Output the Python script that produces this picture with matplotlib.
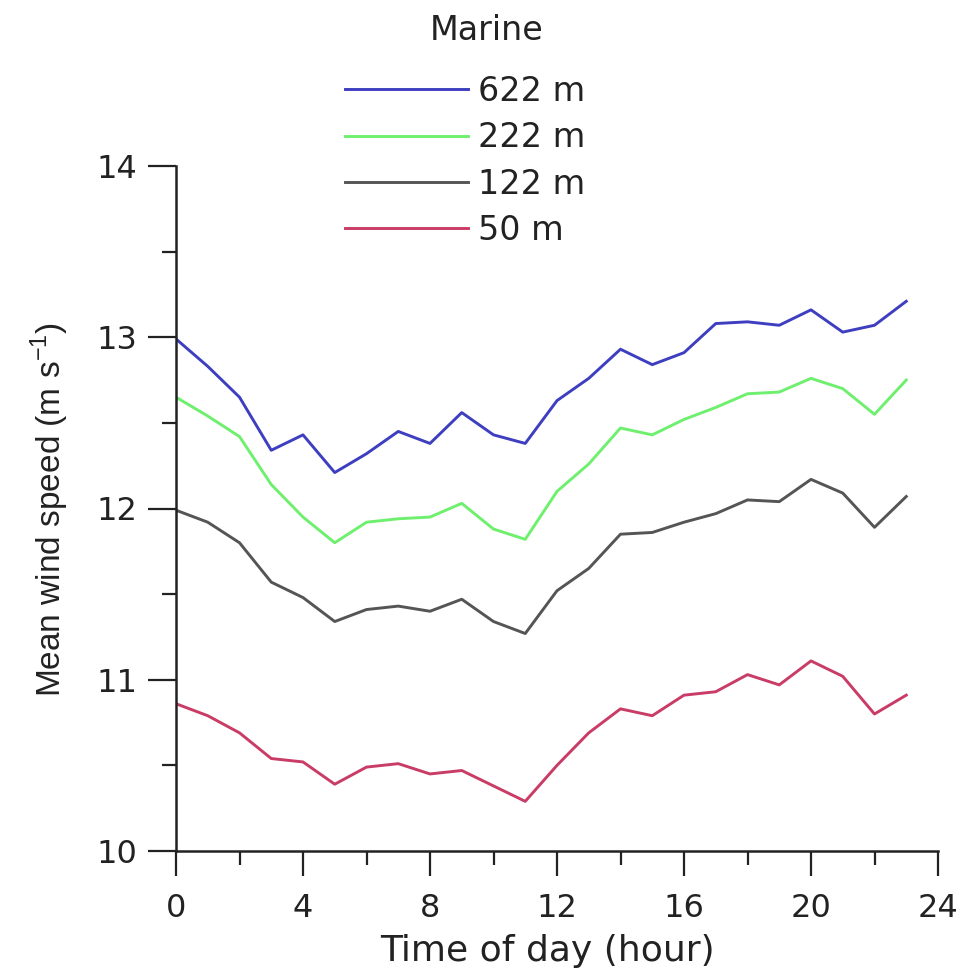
import matplotlib
matplotlib.use("Agg")
import matplotlib.pyplot as plt
from matplotlib.ticker import MultipleLocator

hours = list(range(24))
h622 = [12.99, 12.83, 12.65, 12.34, 12.43, 12.21, 12.32, 12.45, 12.38, 12.56, 12.43, 12.38,
        12.63, 12.76, 12.93, 12.84, 12.91, 13.08, 13.09, 13.07, 13.16, 13.03, 13.07, 13.21]
h222 = [12.65, 12.54, 12.42, 12.14, 11.95, 11.80, 11.92, 11.94, 11.95, 12.03, 11.88, 11.82,
        12.10, 12.26, 12.47, 12.43, 12.52, 12.59, 12.67, 12.68, 12.76, 12.70, 12.55, 12.75]
h122 = [11.99, 11.92, 11.80, 11.57, 11.48, 11.34, 11.41, 11.43, 11.40, 11.47, 11.34, 11.27,
        11.52, 11.65, 11.85, 11.86, 11.92, 11.97, 12.05, 12.04, 12.17, 12.09, 11.89, 12.07]
h50 = [10.86, 10.79, 10.69, 10.54, 10.52, 10.39, 10.49, 10.51, 10.45, 10.47, 10.38, 10.29,
       10.50, 10.69, 10.83, 10.79, 10.91, 10.93, 11.03, 10.97, 11.11, 11.02, 10.80, 10.91]
labels = ["622 m", "222 m", "122 m", "50 m"]
colors = ["#3e3ec0", "#6ef06e", "#555555", "#c93c66"]
series = [h622, h222, h122, h50]

W, H = 973, 968
fig = plt.figure(figsize=(W / 100, H / 100), dpi=100)
ax = fig.add_axes([176 / W, 1 - 851 / H, (938 - 176) / W, (851 - 166) / H])
for s, c, l in zip(series, colors, labels):
    ax.plot(hours, s, color=c, lw=2.1, label=l)

ax.set_xlim(0, 24)
ax.set_ylim(10, 14)
ax.xaxis.set_major_locator(MultipleLocator(4))
ax.xaxis.set_minor_locator(MultipleLocator(2))
ax.yaxis.set_major_locator(MultipleLocator(1))
ax.yaxis.set_minor_locator(MultipleLocator(0.5))
for sp in ["top", "right"]:
    ax.spines[sp].set_visible(False)
for sp in ["left", "bottom"]:
    ax.spines[sp].set_linewidth(1.8)
    ax.spines[sp].set_color("#222222")
ax.tick_params(which="both", direction="out", width=1.6, color="#222222",
               labelsize=23, labelcolor="#222222")
ax.tick_params(axis="y", which="major", length=20, pad=8)
ax.tick_params(axis="y", which="minor", length=10)
ax.tick_params(axis="x", which="major", length=18, pad=12)
ax.tick_params(axis="x", which="minor", length=10)

fig.text(547 / W, 1 - 961 / H, "Time of day (hour)", ha="center", va="baseline",
         fontsize=26, color="#222222")
fig.text(50 / W, 1 - 510 / H, "Mean wind speed (m s$^{\\mathregular{-1}}$)", rotation=90,
         ha="center", va="center", family="Liberation Sans", fontsize=24, color="#222222")

leg = ax.legend(loc="upper left", bbox_to_anchor=(345 / W, 1 - 75 / H), bbox_transform=fig.transFigure,
                frameon=False, prop={"size": 24}, labelcolor="#222222",
                handlelength=3.7, handletextpad=0.3, labelspacing=0.40, borderpad=0, borderaxespad=0)
fig.text(487 / W, 1 - 40 / H, "Marine", ha="center", va="baseline", fontsize=24, color="#222222")

fig.savefig("out.png", dpi=100)
